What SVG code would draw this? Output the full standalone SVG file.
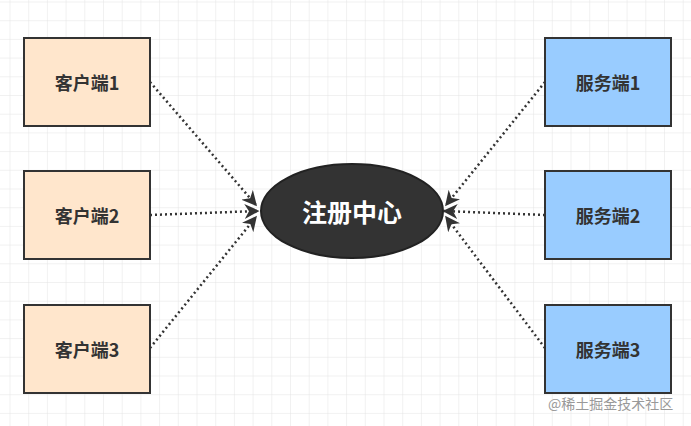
<svg xmlns="http://www.w3.org/2000/svg" width="691" height="426" viewBox="0 0 691 426">
<defs>
<pattern id="grid" width="18.7" height="18.7" patternUnits="userSpaceOnUse" x="9.5" y="1.5">
<path d="M0 0H18.7M0 0V18.7" fill="none" stroke="#e3e3e3" stroke-width="1"/>
</pattern>
<marker id="arr" viewBox="0 0 10 10" refX="9" refY="5" markerWidth="6" markerHeight="6" orient="auto" markerUnits="strokeWidth">
<path d="M0 0L10 5L0 10L3 5Z" fill="#333"/>
</marker>
<style>
.c rect{fill:#ffe6cc;stroke:#333;stroke-width:2}
.s rect{fill:#99ccff;stroke:#333;stroke-width:2}
.t{font-family:"Noto Sans CJK SC","Noto Sans",sans-serif;font-weight:bold;font-size:18px;fill:#333;text-anchor:middle;dominant-baseline:central}
.e{stroke:#333;stroke-width:2.5;stroke-dasharray:2 3;fill:none;marker-end:url(#arr)}
</style>
</defs>
<rect width="691" height="426" fill="#fff"/>
<rect width="691" height="426" fill="url(#grid)"/>
<g id="connectors">
<path class="e" d="M150 82L256 205"/>
<path class="e" d="M150 215L258 211"/>
<path class="e" d="M150 348L256 217"/>
<path class="e" d="M545 82L446 205"/>
<path class="e" d="M545 215L444 211"/>
<path class="e" d="M545 348L446 217"/>
</g>
<g id="client1" class="c"><rect x="24" y="38" width="126" height="88"/><text class="t" x="87" y="82">客户端1</text></g>
<g id="client2" class="c"><rect x="24" y="171" width="126" height="88"/><text class="t" x="87" y="215">客户端2</text></g>
<g id="client3" class="c"><rect x="24" y="305" width="126" height="88"/><text class="t" x="87" y="349">客户端3</text></g>
<g id="server1" class="s"><rect x="545" y="38" width="126" height="88"/><text class="t" x="608" y="82">服务端1</text></g>
<g id="server2" class="s"><rect x="545" y="171" width="126" height="88"/><text class="t" x="608" y="215">服务端2</text></g>
<g id="server3" class="s"><rect x="545" y="305" width="126" height="88"/><text class="t" x="608" y="349">服务端3</text></g>
<g id="registry">
<ellipse cx="352" cy="211" rx="91" ry="47" fill="#333" stroke="#222" stroke-width="2"/>
<text class="t" x="352" y="211" style="fill:#fff;font-size:25px">注册中心</text>
</g>
<text x="548" y="409" style="font-family:'Noto Sans CJK SC',sans-serif;font-size:14px;fill:#999">@稀土掘金技术社区</text>
</svg>
